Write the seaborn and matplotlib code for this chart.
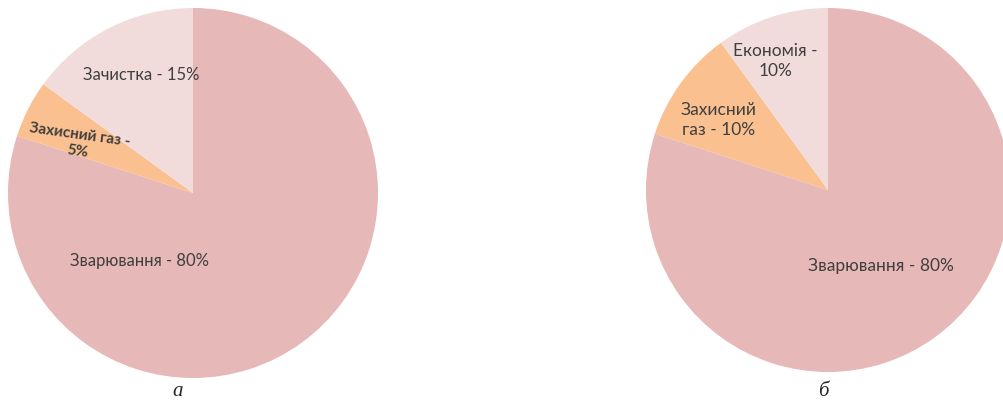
import matplotlib
matplotlib.use("Agg")
import matplotlib.pyplot as plt
import seaborn as sns

sns.set_theme(style="white")
plt.rcParams['font.family'] = ['Lato', 'DejaVu Sans']

# ---- data ----
labels_a = ["Зварювання - 80%", "Захисний газ -\n5%", "Зачистка - 15%"]
values_a = [80, 5, 15]
labels_b = ["Зварювання - 80%", "Захисний\nгаз - 10%", "Економія -\n10%"]
values_b = [80, 10, 10]
captions = ["а", "б"]

# ---- styles ----
colors = ["#E6B8B7", "#FAC090", "#F2DCDB"]
pos_a = [(-0.29, -0.37), (-0.62, 0.27), (-0.28, 0.64)]
rot_a = [0, -8, 0]
weight_a = ["normal", "bold", "normal"]
pos_b = [(0.29, -0.42), (-0.60, 0.385), (-0.29, 0.71)]

W, H = 1004, 408
fig = plt.figure(figsize=(W / 100, H / 100), dpi=100)
fig.patch.set_facecolor("white")


def make_ax(cx, cy, r):
    ax = fig.add_axes([(cx - r) / W, (H - cy - r) / H, 2 * r / W, 2 * r / H])
    return ax


def finish(ax):
    ax.set_xlim(-1, 1)
    ax.set_ylim(-1, 1)
    ax.set_aspect("equal")
    ax.axis("off")


ax1 = make_ax(193, 193, 185)
ax1.pie(values_a, colors=colors, startangle=90, counterclock=False, radius=1,
        wedgeprops=dict(linewidth=0))
finish(ax1)
for lab, (x, y), rot, wt in zip(labels_a, pos_a, rot_a, weight_a):
    ax1.text(x, y, lab, ha="center", va="center", rotation=rot,
             fontsize=11 if wt == "bold" else 12,
             fontweight=wt, color="#3F3F3F", linespacing=1.2)

ax2 = make_ax(828, 190, 182)
ax2.pie(values_b, colors=colors, startangle=90, counterclock=False, radius=1,
        wedgeprops=dict(linewidth=0))
finish(ax2)
for lab, (x, y) in zip(labels_b, pos_b):
    ax2.text(x, y, lab, ha="center", va="center", fontsize=12.5,
             color="#3F3F3F", linespacing=1.35)

fig.text(178 / W, 1 - 392 / H, captions[0], ha="center", va="center",
         fontsize=15, fontstyle="italic", family="Liberation Serif")
fig.text(823 / W, 1 - 392 / H, captions[1], ha="center", va="center",
         fontsize=15, fontstyle="italic", family="Liberation Serif")

fig.savefig("out.png", dpi=100, facecolor="white")
